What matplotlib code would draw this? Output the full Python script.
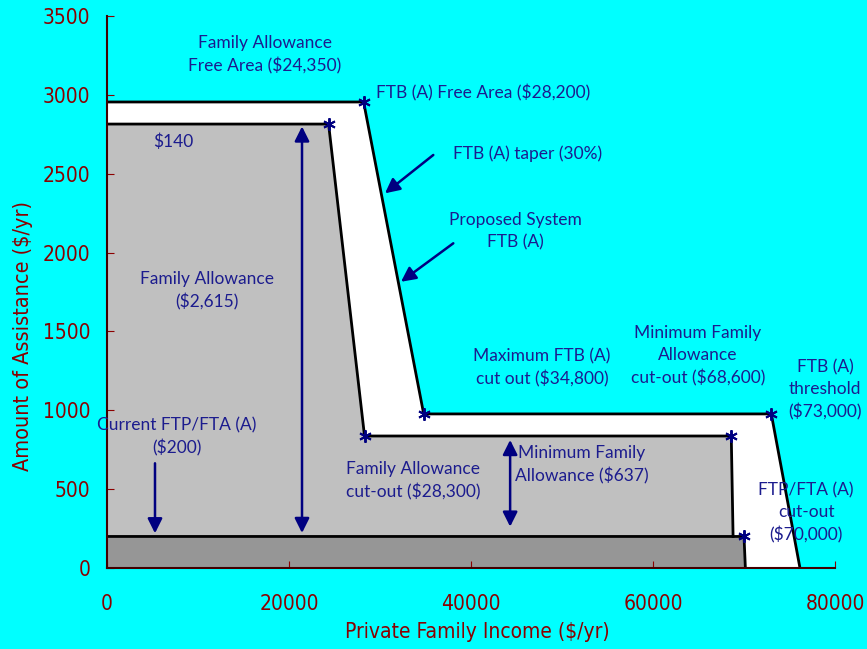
import matplotlib
matplotlib.use("Agg")
import matplotlib.pyplot as plt

# Proposed system: FTB (A) envelope
ftb_x = [0, 28200, 34800, 73000, 76150]
ftb_y = [2955, 2955, 977, 977, 0]

# Family Allowance (incl. $200 FTP/FTA base)
fa_x = [0, 24350, 28300, 68600, 68800]
fa_y = [2815, 2815, 837, 837, 200]

# Current FTP/FTA (A)
ftp_x = [0, 70000, 70150]
ftp_y = [200, 200, 0]

# Marked breakpoints
star_x = [24350, 28200, 28300, 34800, 68600, 73000, 70000]
star_y = [2815, 2955, 837, 977, 837, 977, 200]

x_ticks = [0, 20000, 40000, 60000, 80000]
y_ticks = [0, 500, 1000, 1500, 2000, 2500, 3000, 3500]

BG = "#00FFFF"
RED = "#8B0000"
NAVY = "#000080"
TXT = "#1c1c8e"

fig = plt.figure(figsize=(8.67, 6.49), dpi=100, facecolor=BG)
ax = fig.add_axes([0.1234, 0.1248, 0.8397, 0.8505])
ax.set_facecolor(BG)


def closed(xs, ys):
    return xs + [xs[-1], 0], ys + [0, 0]


for xs, ys, col in [(ftb_x, ftb_y, "white"), (fa_x, fa_y, "#C0C0C0"), (ftp_x, ftp_y, "#969696")]:
    px, py = closed(xs, ys)
    ax.fill(px, py, color=col, lw=0, zorder=1)
    ax.plot(xs, ys, color="black", lw=2, zorder=2, solid_joinstyle="miter")

ax.plot(star_x, star_y, ls="none", marker=(6, 2, 0), ms=9, mec=NAVY, mew=1.4, zorder=4)

ax.set_xlim(0, 80000)
ax.set_ylim(0, 3500)
ax.set_xticks(x_ticks)
ax.set_yticks(y_ticks)
for s in ["top", "right"]:
    ax.spines[s].set_visible(False)
for s in ["left", "bottom"]:
    ax.spines[s].set_color("#400000")
    ax.spines[s].set_linewidth(1.5)
    ax.spines[s].set_zorder(5)
ax.tick_params(direction="in", length=5, color=RED, labelcolor=RED, labelsize=15)
ax.tick_params(axis="x", pad=19)
ax.tick_params(axis="y", pad=12)
for lab in ax.get_xticklabels() + ax.get_yticklabels():
    lab.set_fontstretch("condensed")
ax.set_xlabel("Private Family Income ($/yr)", color=RED, fontsize=15, fontstretch="condensed")
ax.set_ylabel("Amount of Assistance ($/yr)", color=RED, fontsize=15.5, fontstretch="condensed")
ax.xaxis.set_label_coords(0.508, -0.097)
ax.yaxis.set_label_coords(-0.101, 0.42)

tk = dict(color=TXT, fontsize=12.5, family="Lato", linespacing=1.45, zorder=6)


def label(x, y, s, ha="center"):
    ax.text(x, y, s, ha=ha, va="center", **tk)


label(17363, 3253, "Family Allowance\nFree Area ($24,350)")
label(29560, 3012, "FTB (A) Free Area ($28,200)", ha="left")
label(5055, 2701, "$140", ha="left")
label(38022, 2625, "FTB (A) taper (30%)", ha="left")
label(44835, 2134, "Proposed System\nFTB (A)")
label(10989, 1760, "Family Allowance\n($2,615)")
label(47802, 1268, "Maximum FTB (A)\ncut out ($34,800)")
label(64945, 1344, "Minimum Family\nAllowance\ncut-out ($68,600)")
label(78901, 1129, "FTB (A)\nthreshold\n($73,000)")
label(7692, 831, "Current FTP/FTA (A)\n($200)")
label(33626, 552, "Family Allowance\ncut-out ($28,300)")
label(52198, 653, "Minimum Family\nAllowance ($637)")
label(76813, 349, "FTP/FTA (A)\ncut-out\n($70,000)")

one = dict(arrowstyle="-|>", color=NAVY, lw=1.8, mutation_scale=22, shrinkA=0, shrinkB=0)
two = dict(arrowstyle="<|-|>", color=NAVY, lw=1.8, mutation_scale=22, shrinkA=0, shrinkB=0)

ax.annotate("", xy=(5275, 220), xytext=(5275, 664), arrowprops=one, zorder=6)
ax.annotate("", xy=(21430, 222), xytext=(21430, 2800), arrowprops=two, zorder=6)
ax.annotate("", xy=(44300, 262), xytext=(44300, 812), arrowprops=two, zorder=6)
ax.annotate("", xy=(30549, 2376), xytext=(35857, 2619), arrowprops=one, zorder=6)
ax.annotate("", xy=(32308, 1815), xytext=(38055, 2059), arrowprops=one, zorder=6)

fig.savefig("out.png", dpi=100, facecolor=BG)
